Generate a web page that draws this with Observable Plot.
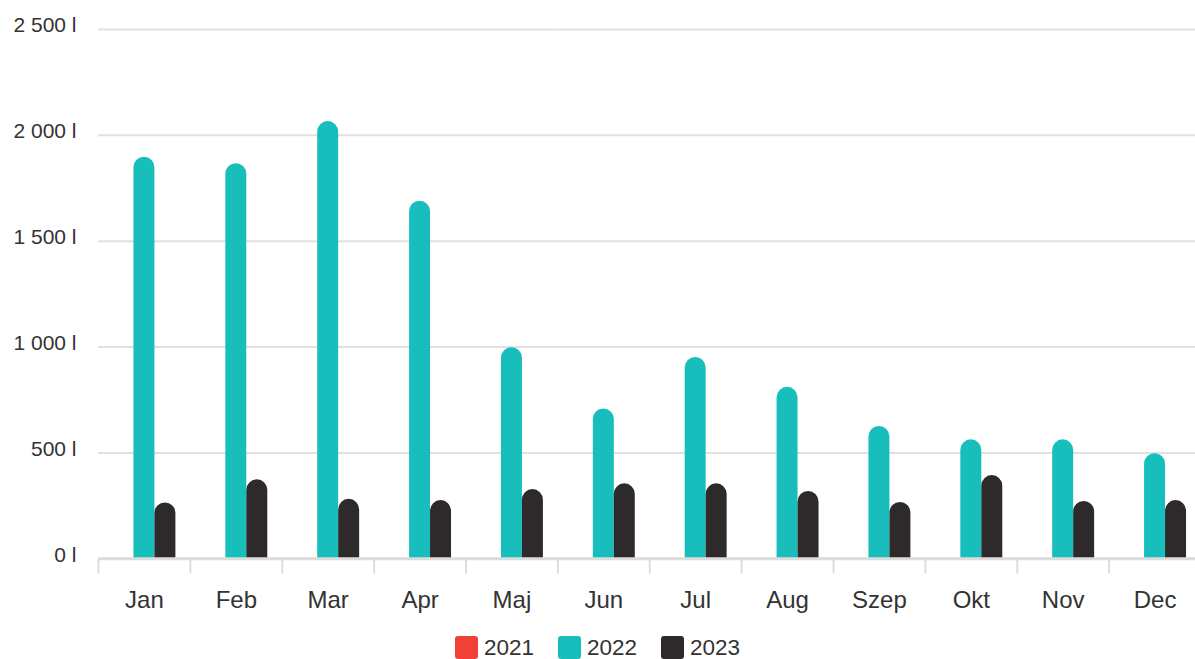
<!DOCTYPE html>
<html>
<head>
<meta charset="utf-8">
<script src="https://cdn.jsdelivr.net/npm/d3@7"></script>
<script src="https://cdn.jsdelivr.net/npm/@observablehq/plot@0.6"></script>
<style>
  html, body { margin: 0; padding: 0; background: #fff; }
  body { width: 1195px; height: 659px; overflow: hidden; font-family: "Liberation Sans", Arial, sans-serif; }
  #legend { display: flex; justify-content: center; align-items: center; margin-top: 8px; height: 23px; }
  .item { display: flex; align-items: center; margin: 0 12px; }
  .sw { width: 23px; height: 23px; border-radius: 3px; margin-right: 6px; }
  .lab { font-size: 22.5px; color: #333; line-height: 23px; }
</style>
</head>
<body>
<div id="chart"></div>
<div id="legend"></div>
<script>
const months = ["Jan","Feb","Mar","Apr","Maj","Jun","Jul","Aug","Szep","Okt","Nov","Dec"];
const years = ["2021","2022","2023"];
const colors = ["#f04037","#18bebc","#2e2a2c"];
const v2021 = [null,null,null,null,null,null,null,null,null,null,null,null];
const v2022 = [1897,1866,2065,1689,997,708,951,810,625,562,562,496];
const v2023 = [264,373,281,275,327,354,354,318,266,393,271,275];
const yTicks = [0,500,1000,1500,2000,2500];

const series = {"2021": v2021, "2022": v2022, "2023": v2023};
const data = [];
months.forEach((m, i) => {
  years.forEach(y => {
    const v = series[y][i];
    if (v != null) data.push({month: m, year: y, value: v});
  });
});

const fmt = d3.formatLocale({decimal: ",", thousands: " ", grouping: [3]}).format(",");
const font = '"Liberation Sans", Arial, sans-serif';

const chart = Plot.plot({
  width: 1195,
  height: 628,
  marginLeft: 98,
  marginRight: -5.5,
  marginTop: 29,
  marginBottom: 69.7,
  fx: {domain: months, padding: 0, round: false, label: null},
  x: {domain: years, paddingInner: 0, paddingOuter: 0.69, round: false, axis: null},
  y: {domain: [0, 2500], label: null},
  color: {domain: years, range: colors},
  style: {fontFamily: font, color: "#333", background: "white", overflow: "hidden"},
  marks: [
    Plot.gridY(yTicks, {stroke: "#e0e0e0", strokeOpacity: 1, strokeWidth: 2}),
    Plot.barY(data, {fx: "month", x: "year", y: "value", fill: "year", ry1: 10.5}),
    Plot.ruleY([0], {stroke: "#dcdcdc", strokeWidth: 3}),
    Plot.frame({anchor: "left", stroke: "#dcdcdc", strokeWidth: 2, insetTop: 531, insetBottom: -13.7}),
    Plot.axisY(yTicks, {tickFormat: d => fmt(d) + " l", tickSize: 0, tickPadding: 22, fontSize: 21, dy: -4, fill: "#333", label: null}),
    Plot.axisFx({anchor: "bottom", tickSize: 0, tickPadding: 32, fontSize: 24, label: null, fill: "#333"})
  ]
});
document.getElementById("chart").appendChild(chart);

const legend = document.getElementById("legend");
years.forEach((y, i) => {
  const item = document.createElement("div");
  item.className = "item";
  const sw = document.createElement("div");
  sw.className = "sw";
  sw.style.background = colors[i];
  const lab = document.createElement("span");
  lab.className = "lab";
  lab.textContent = y;
  item.appendChild(sw);
  item.appendChild(lab);
  legend.appendChild(item);
});
</script>
</body>
</html>
